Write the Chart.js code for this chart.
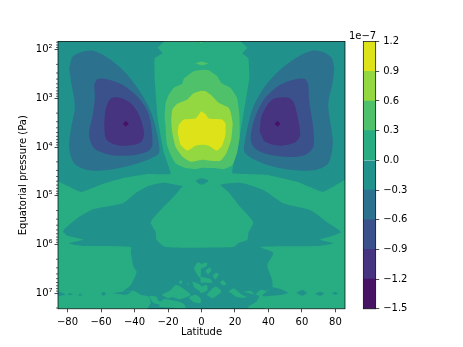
<!DOCTYPE html>
<html><head><meta charset="utf-8">
<script src="https://cdn.jsdelivr.net/npm/chart.js@4"></script>
<style>html,body{margin:0;padding:0;background:#fff}canvas{position:absolute;left:0;top:0}</style>
</head><body>
<canvas id="main" width="463" height="347"></canvas>
<canvas id="bar" width="463" height="347"></canvas>
<script>
// Contour levels (units of 1e-7) and the colour of each band
const levels=[-1.5,-1.2,-0.9,-0.6,-0.3,0,0.3,0.6,0.9,1.2];
const bandColors=['#471365','#463480','#3b518b','#2c718e','#21918c','#27ad81','#4fc16b','#93d741','#dde318'];
const levelLabels=['−1.5','−1.2','−0.9','−0.6','−0.3','0.0','0.3','0.6','0.9','1.2'];
const latTicks=[-80,-60,-40,-20,0,20,40,60,80];
const latLabels=['−80','−60','−40','−20','0','20','40','60','80'];
const pressureTicks=[1e2,1e3,1e4,1e5,1e6,1e7];
const pressureLabels=['10²','10³','10⁴','10⁵','10⁶','10⁷'];
const latRange=[-85.7,85.7];
const pressureRange=[68,2.08e7];
// Contours as [latitude, log10 pressure]
const baseGreen=[[-87,1.7],[87,1.7],[87,7.5],[-87,7.5]];
const tealTopWest=[[-87,1.7],[-18.5,1.7],[-26.2,1.96],[-23.2,2.07],[-28,2.17],[-28,2.58],[-26.2,3.40],[-22.6,4.10],[-18.4,4.55],[-32.1,4.55],[-46.4,4.63],[-60.1,4.77],[-72,4.92],[-85,4.71],[-87,4.70]];
const tealTopEast=[[19,1.7],[27.4,1.96],[24.4,2.07],[28,2.17],[28.6,2.58],[25,3.34],[22,3.95],[18.4,4.53],[39.3,4.57],[57.1,4.71],[72.6,4.92],[85.7,4.67],[87,4.65],[87,1.7]];
const tealCentreSpot=[[-3.6,4.69],[0,4.64],[4.2,4.69],[1.2,4.76],[-1.2,4.76]];
const tealLowerMain=[[-11.3,4.80],[-22.6,4.73],[-32.1,4.80],[-39.3,4.94],[-47,5.15],[-64.3,5.27],[-73.8,5.45],[-82.7,5.72],[-79.7,5.82],[-70.8,5.90],[-79.1,5.97],[-70.2,6.03],[-42.2,6.05],[-42.2,6.15],[-40.5,6.46],[-38.7,6.56],[-42.2,6.83],[-47,6.97],[-40.5,6.95],[-36.3,7.03],[-31.5,7.07],[-30.3,7.20],[-33.3,7.4],[26.2,7.4],[33.3,7.14],[35.1,7.03],[42.2,6.87],[42.2,6.73],[39.3,6.42],[42.8,6.17],[35.1,6.05],[69,6.03],[78.5,5.97],[70.8,5.90],[78.5,5.82],[83.3,5.74],[75,5.54],[64.9,5.29],[48.8,5.15],[36.9,4.88],[23.2,4.73],[11.3,4.77],[16.1,4.92],[23.2,5.23],[30.9,5.54],[28,5.76],[27.4,5.90],[22,5.97],[19,6.05],[-21.4,6.05],[-26.8,5.90],[-27.4,5.74],[-30.3,5.54],[-24.4,5.29],[-16.7,5.02]];
const greenSpecks=[
 [[-0.6,6.40],[3.4,6.37],[3,6.44],[-0.6,6.49]],
 [[2.4,6.54],[4.8,6.47],[5.9,6.52],[3.8,6.61]],
 [[6.7,6.64],[8.7,6.58],[10.3,6.61],[8.3,6.71]],
 [[-0.6,6.66],[5.4,6.71],[6.4,6.78],[0.4,6.78],[-0.6,6.76]],
 [[10.9,6.78],[12.7,6.73],[14.9,6.81],[12.9,6.84]],
 [[-0.6,6.86],[3,6.83],[3.6,6.93],[-0.6,6.99]],
 [[3,7.03],[8.3,6.86],[11.8,6.96],[8.3,7.07],[6.4,7.10]],
 [[16.2,6.96],[19.2,6.90],[24.2,7.03],[27.2,7.08],[21.2,7.08]],
 [[25,6.97],[29.2,6.95],[32.1,7.03],[34.5,6.95],[36.9,6.93],[41.1,7.01],[38.1,7.10],[33.9,7.16],[28,7.28],[26.2,7.4],[33.9,7.4],[41.1,7.14]],
 [[-4.5,6.49],[-2.5,6.37],[-0.6,6.38],[-0.6,6.69],[-2.5,6.62]],
 [[-13.5,6.76],[-12.1,6.73],[-11.5,6.78],[-12.9,6.81]],
 [[-8.5,6.81],[-7.6,6.79],[-7.9,6.84]],
 [[-5.5,6.76],[-0.6,6.83],[-0.6,6.96],[-4.6,6.86]],
 [[-23.8,7.03],[-18.4,6.93],[-15.5,6.83],[-11.3,6.89],[-6.5,7.03],[-10.7,7.10],[-13.7,7.12],[-17.3,7.08],[-20.2,7.10]],
 [[-25.6,7.28],[-22.6,7.12],[-17.3,7.14],[-11.3,7.20],[-9.5,7.30]],
 [[-7.7,7.08],[-3.6,7.03],[-0.6,7.10],[-0.6,7.20],[-4.8,7.18]],
 [[-31.5,7.05],[-26.8,7.07],[-25.6,7.16],[-22.6,7.16],[-24.4,7.24],[-29.2,7.18]]
];
const tealStreaks=[
 [[-87,6.95],[-83,6.99],[-81.5,7.03],[-84,7.05],[-87,7.07]],
 [[-80.3,7.02],[-78.5,7.0],[-76.8,7.02],[-78.5,7.04]],
 [[-73.8,7.03],[-72,7.01],[-71.4,7.04],[-73,7.05]],
 [[-60,7.01],[-58.6,6.97],[-57,7.01],[-58.6,7.05]],
 [[-53,7.0],[-47,6.97],[-42,6.97],[-45,7.03],[-49,7.02]],
 [[42.2,6.87],[47,6.91],[51.7,6.99],[48.2,7.03],[42.2,7.05],[36.3,7.05]],
 [[56.5,6.99],[60.1,6.93],[63,6.99],[60.1,7.05]],
 [[67.8,7.01],[70.8,6.97],[73.2,7.01],[70.8,7.05]],
 [[77.9,7.01],[79.7,6.97],[81.5,7.01],[79.7,7.03]]
];
const vortexWest06=[[-79,2.38],[-76.9,2.14],[-72,2.05],[-65,2.02],[-58.1,2.12],[-47.2,2.41],[-37.3,2.83],[-30.3,3.27],[-26,3.82],[-25.4,4.12],[-30.3,4.23],[-42.2,4.37],[-56.1,4.47],[-68,4.47],[-76,4.33],[-79,4.02],[-77.9,3.61],[-75.6,3.17],[-77.9,2.65]];
const vortexWest09=[[-64.1,2.72],[-62.1,2.60],[-57.1,2.60],[-47.2,2.72],[-37.3,3.00],[-31.4,3.34],[-29.3,3.95],[-32.2,4.09],[-42.2,4.17],[-54.1,4.16],[-64.1,4.02],[-67.1,3.75],[-65,3.34],[-63.7,3.00]];
const vortexWest12=[[-58.1,3.51],[-57.1,3.20],[-54.1,3.00],[-49.2,2.98],[-42.2,3.10],[-37.3,3.34],[-34.3,3.71],[-36.3,3.90],[-44.2,3.97],[-52.2,3.94],[-57.1,3.82]];
const vortexWestCore=[[-47,3.52],[-45.2,3.46],[-43.4,3.52],[-45.2,3.58]];
const vortexEast06=[[79.3,2.38],[77.8,2.17],[72.8,2.05],[65.9,2.02],[58.9,2.12],[47,2.41],[37.1,2.79],[30.2,3.24],[26.2,3.82],[25.6,4.09],[30.2,4.23],[41.1,4.38],[54.9,4.47],[67.8,4.47],[75.7,4.33],[78.4,3.95],[77.8,3.68],[75.7,3.13],[78.4,2.65]];
const vortexEast09=[[63.8,2.72],[61.9,2.60],[56.9,2.60],[47,2.72],[37.1,3.03],[31.1,3.48],[29.6,3.89],[34.1,4.08],[47,4.19],[60.9,4.17],[66.8,3.99],[66.5,3.54],[64.4,3.07]];
const vortexEast12=[[34.7,3.68],[36.1,3.34],[42.1,3.03],[51.3,2.98],[54.9,3.07],[56.9,3.30],[58.9,3.75],[55.9,3.90],[47,3.97],[38.1,3.89]];
const vortexEastCore=[[43.6,3.52],[45.4,3.46],[47.2,3.52],[45.4,3.58]];
const centre03Lens=[[-3.6,2.28],[-0.2,2.24],[3.8,2.28],[0.4,2.32]];
const centre03Sliver=[[-3.6,1.8],[3.6,1.8],[0,1.86]];
const centre03=[[0.4,2.41],[4.3,2.42],[9.3,2.54],[11.9,2.68],[17.3,2.78],[21.2,2.99],[22.6,3.33],[22.8,3.78],[21.2,4.12],[18.3,4.37],[13.3,4.45],[6.4,4.43],[0.4,4.42],[-3.6,4.45],[-9.5,4.43],[-15.5,4.33],[-18.9,4.12],[-20.8,3.92],[-21.6,3.51],[-22,3.40],[-21.4,3.09],[-19.5,2.92],[-16.5,2.78],[-11.5,2.70],[-10.5,2.59],[-4.6,2.44]];
const centre06=[[-0.2,2.84],[-4.6,2.89],[-8.5,3.02],[-14.5,3.11],[-17.4,3.23],[-18,3.40],[-18,3.51],[-17.4,3.71],[-15.5,3.99],[-11.5,4.19],[-6.5,4.30],[-2.6,4.28],[0.4,4.26],[5.4,4.28],[11.3,4.28],[14.9,4.12],[17.7,3.85],[18.6,3.51],[17.3,3.27],[16.2,3.19],[10.3,3.09],[5.4,2.92],[2.4,2.85]];
const centre09=[[-0.2,3.26],[-3.6,3.41],[-10.5,3.43],[-13.5,3.54],[-14.1,3.71],[-12.5,3.95],[-8.5,4.07],[-3.6,3.97],[0.4,3.95],[4.3,3.97],[9.3,4.07],[12.3,3.97],[14.3,3.75],[14.3,3.51],[12.3,3.43],[4.3,3.41],[2.4,3.32]];

const teal=bandColors[4],green=bandColors[5];
const layers=[
 [baseGreen,green,0],
 [tealTopWest,teal,0.08],[tealTopEast,teal,0.08],[tealCentreSpot,teal,0.2],[tealLowerMain,teal,0.2],
 ...greenSpecks.map(p=>[p,green,0.25]),
 ...tealStreaks.map(p=>[p,teal,0.25]),
 [vortexWest06,bandColors[3],0.3],[vortexEast06,bandColors[3],0.3],
 [vortexWest09,bandColors[2],0.3],[vortexEast09,bandColors[2],0.3],
 [vortexWest12,bandColors[1],0.3],[vortexEast12,bandColors[1],0.3],
 [vortexWestCore,bandColors[0],0],[vortexEastCore,bandColors[0],0],
 [centre03Lens,bandColors[6],0.2],[centre03Sliver,bandColors[6],0],[centre03,bandColors[6],0.15],
 [centre06,bandColors[7],0.15],[centre09,bandColors[8],0.15]
];
const font={family:'"DejaVu Sans"',size:10};
const ink='#000';
const datasets=layers.map(([poly,color,tension],i)=>{
 const pts=poly.concat([poly[0]]).map(([lat,lp])=>({x:lat,y:Math.pow(10,lp)}));
 return {data:pts,showLine:true,fill:'shape',backgroundColor:color,borderColor:color,borderWidth:0,pointRadius:0,tension,order:layers.length-i};
});
const frame={id:'frame',afterDraw(c){
 const a=c.chartArea,g=c.ctx;g.save();g.strokeStyle=ink;g.lineWidth=0.7;
 g.strokeRect(a.left,a.top,a.right-a.left,a.bottom-a.top);g.restore();}};
const minorTicks={id:'minorTicks',afterDraw(c){
 const s=c.scales.y,g=c.ctx;g.save();g.strokeStyle=ink;g.lineWidth=0.6;
 for(let e=1;e<8;e++)for(let m=2;m<10;m++){
  const v=m*Math.pow(10,e);if(v<pressureRange[0]||v>pressureRange[1])continue;
  const y=s.getPixelForValue(v);g.beginPath();g.moveTo(58,y);g.lineTo(56,y);g.stroke();}
 g.restore();}};
new Chart(document.getElementById('main'),{type:'scatter',data:{datasets},
 plugins:[frame,minorTicks],
 options:{responsive:false,animation:false,devicePixelRatio:1,
  layout:{padding:{left:0,right:118,top:41.6,bottom:0}},
  plugins:{legend:{display:false},tooltip:{enabled:false}},
  scales:{
   x:{type:'linear',min:latRange[0],max:latRange[1],
    afterFit(s){s.height=38.2},
    afterBuildTicks(s){s.ticks=latTicks.map(v=>({value:v}))},
    grid:{drawOnChartArea:false,drawTicks:true,tickLength:3.5,tickColor:ink,tickWidth:0.7},border:{display:false},
    ticks:{font,color:ink,padding:4,maxRotation:0,autoSkip:false,callback:v=>latLabels[latTicks.indexOf(v)]},
    title:{display:true,text:'Latitude',font,color:ink,padding:{top:0,bottom:9}}},
   y:{type:'logarithmic',reverse:true,min:pressureRange[0],max:pressureRange[1],
    afterFit(s){s.width=58},
    afterBuildTicks(s){s.ticks=pressureTicks.map(v=>({value:v}))},
    grid:{drawOnChartArea:false,drawTicks:true,tickLength:3.5,tickColor:ink,tickWidth:0.7},border:{display:false},
    ticks:{font,color:ink,padding:2,autoSkip:false,callback:v=>pressureLabels[pressureTicks.indexOf(v)]},
    title:{display:true,text:'Equatorial pressure (Pa)',font,color:ink,padding:{top:17,bottom:0}}}
  }}});
const bandEdges=bandColors.map((c,i)=>[levels[i],levels[i+1]]);
const offsetText={id:'offsetText',afterDraw(c){
 const g=c.ctx,a=c.chartArea;g.save();g.fillStyle=ink;g.font='10px "DejaVu Sans"';g.textAlign='right';g.textBaseline='alphabetic';
 g.fillText('1e−7',a.right+0.5,a.top-3);g.restore();}};
new Chart(document.getElementById('bar'),{type:'bar',
 data:{labels:['band'],datasets:bandEdges.map((e,i)=>({data:[e],backgroundColor:bandColors[i],barPercentage:1,categoryPercentage:1,grouped:false}))},
 plugins:[frame,offsetText],
 options:{responsive:false,animation:false,devicePixelRatio:1,
  layout:{padding:{left:363.3,right:0,top:41.6,bottom:38.2}},
  plugins:{legend:{display:false},tooltip:{enabled:false}},
  scales:{
   x:{display:false},
   y:{position:'right',min:levels[0],max:levels[levels.length-1],
    afterFit(s){s.width=463-375.7-0;},
    afterBuildTicks(s){s.ticks=levels.map(v=>({value:v}))},
    grid:{drawOnChartArea:false,drawTicks:true,tickLength:3.5,tickColor:ink,tickWidth:0.7},border:{display:false},
    ticks:{font,color:ink,padding:4,autoSkip:false,callback:v=>levelLabels[levels.findIndex(l=>Math.abs(l-v)<1e-6)]}}
  }}});
</script>
</body></html>
